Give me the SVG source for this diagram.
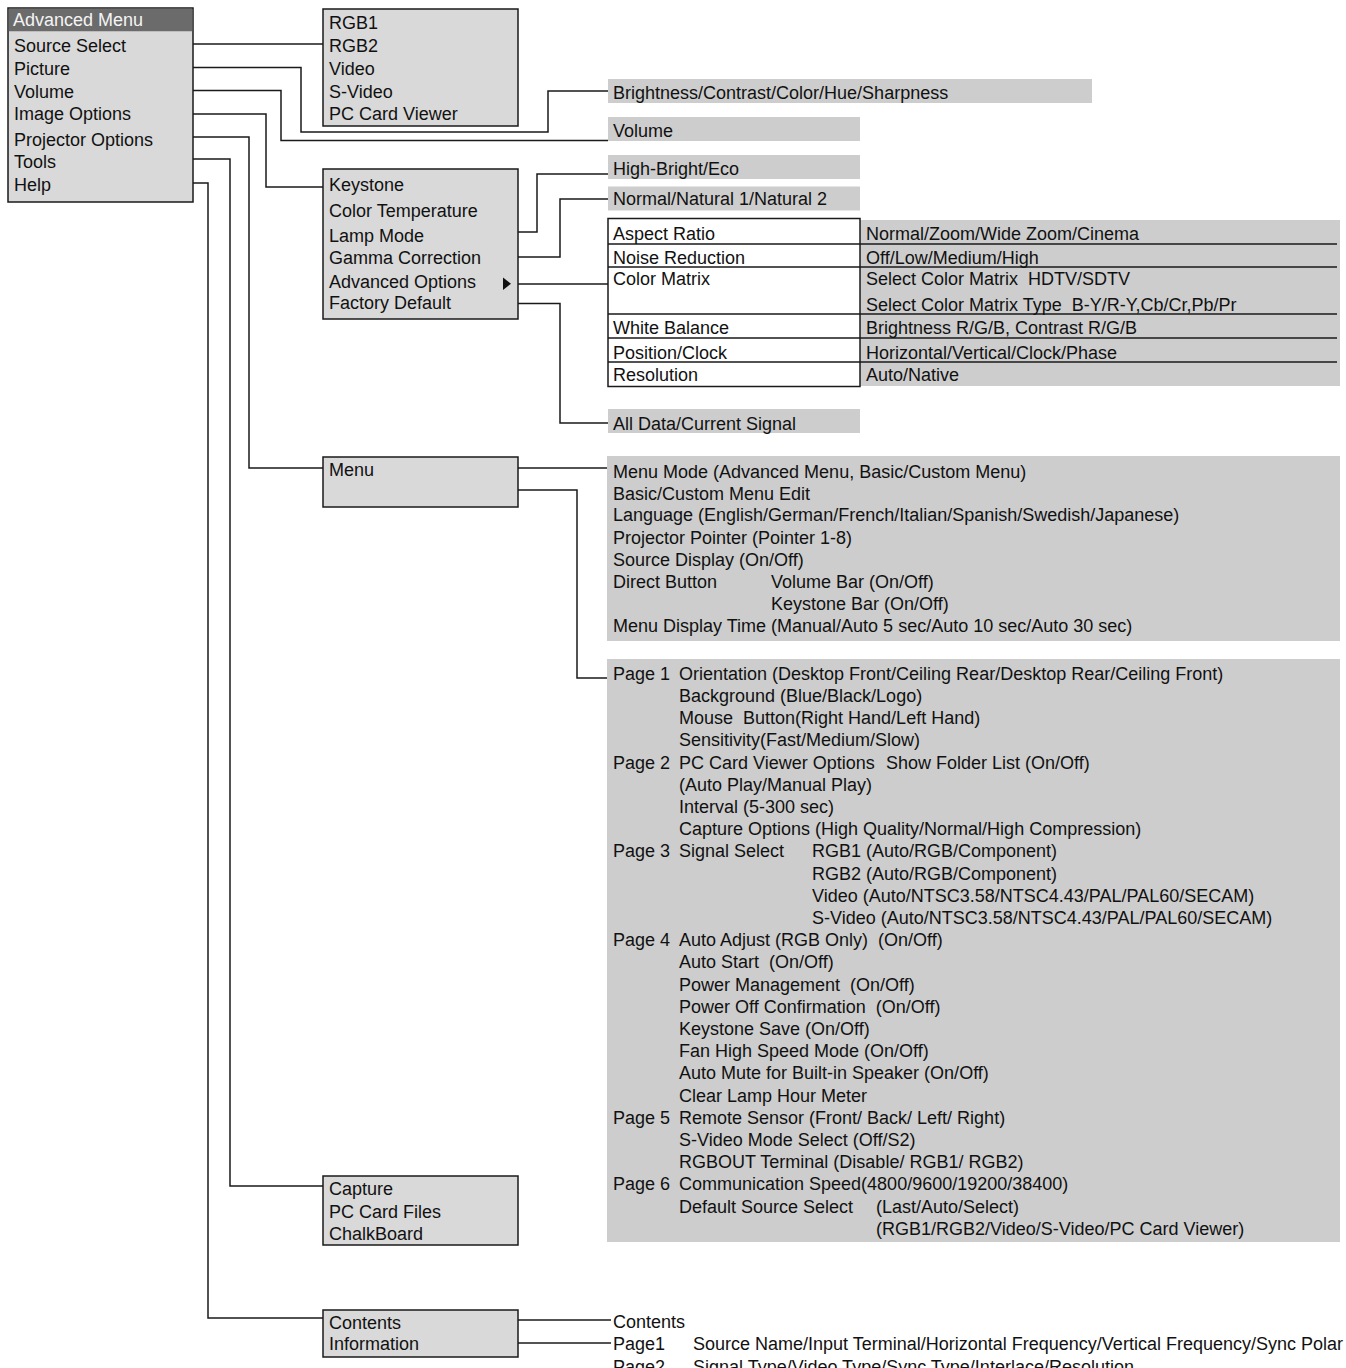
<svg xmlns="http://www.w3.org/2000/svg" width="1346" height="1368" viewBox="0 0 1346 1368" xml:space="preserve">
<style>
.box{fill:#d9d9d9;stroke:#1a1a1a;stroke-width:1.5}
.bar{fill:#cdcdcd}
.tbl{fill:#ffffff;stroke:#1a1a1a;stroke-width:1.5}
.t{font-family:"Liberation Sans",Arial,sans-serif;font-size:18px;fill:#111111;white-space:pre}
.w{fill:#f4f4f4}
.ln{fill:none;stroke:#1a1a1a;stroke-width:1.5}
</style>
<rect width="1346" height="1368" fill="#ffffff"/>

<g id="connectors" class="ln">
<path d="M193 44H323"/>
<path d="M193 67.5H301V132H548V91H608"/>
<path d="M193 90.5H281V140.5H608"/>
<path d="M193 114H266V187H323"/>
<path d="M193 137H249V468H323"/>
<path d="M193 159H230V1186H323"/>
<path d="M193 183H208V1318H323"/>
<path d="M518 232H537V174H608"/>
<path d="M518 257H560V199H608"/>
<path d="M518 284H608"/>
<path d="M518 303.5H560V423H608"/>
<path d="M518 468H607"/>
<path d="M518 490H577V678H607"/>
<path d="M518 1320H611"/>
<path d="M518 1343H611"/>
</g>

<g id="advanced-menu">
<rect class="box" x="8" y="8" width="185" height="194"/>
<rect x="8.75" y="8.75" width="183.5" height="22.5" fill="#6b6b6b"/>
<text class="t w" x="13" y="25.5">Advanced Menu</text>
<text class="t" x="14" y="51.5">Source Select</text>
<text class="t" x="14" y="74.5">Picture</text>
<text class="t" x="14" y="97.5">Volume</text>
<text class="t" x="14" y="119.5">Image Options</text>
<text class="t" x="14" y="145.5">Projector Options</text>
<text class="t" x="14" y="167.5">Tools</text>
<text class="t" x="14" y="190.5">Help</text>
</g>

<g id="source-select-menu">
<rect class="box" x="323" y="9" width="195" height="117"/>
<text class="t" x="329" y="29">RGB1</text>
<text class="t" x="329" y="52">RGB2</text>
<text class="t" x="329" y="74.5">Video</text>
<text class="t" x="329" y="98">S-Video</text>
<text class="t" x="329" y="119.5">PC Card Viewer</text>
</g>

<g id="picture-options">
<rect class="bar" x="608" y="79" width="484" height="24"/>
<text class="t" x="613" y="98.5">Brightness/Contrast/Color/Hue/Sharpness</text>
</g>

<g id="volume-option">
<rect class="bar" x="608" y="117" width="252" height="24"/>
<text class="t" x="613" y="136.5">Volume</text>
</g>

<g id="image-options-menu">
<rect class="box" x="323" y="169" width="195" height="150"/>
<text class="t" x="329" y="190.5">Keystone</text>
<text class="t" x="329" y="216.5">Color Temperature</text>
<text class="t" x="329" y="241.5">Lamp Mode</text>
<text class="t" x="329" y="263.5">Gamma Correction</text>
<text class="t" x="329" y="287.5">Advanced Options</text>
<text class="t" x="329" y="308.5">Factory Default</text>
<polygon points="503,277.5 503,290 511,283.75" fill="#111111"/>
</g>

<g id="lamp-mode-options">
<rect class="bar" x="608" y="155" width="252" height="24"/>
<text class="t" x="613" y="174.5">High-Bright/Eco</text>
</g>

<g id="gamma-options">
<rect class="bar" x="608" y="186.5" width="252" height="24"/>
<text class="t" x="613" y="204.5">Normal/Natural 1/Natural 2</text>
</g>

<g id="advanced-options-table">
<rect class="bar" x="860" y="220" width="480" height="166"/>
<rect class="tbl" x="608" y="218.5" width="252" height="168"/>
<path class="ln" d="M608 244H1337M608 267H1337M608 314H1337M608 338H1337M608 362H1337"/>
<text class="t" x="613" y="239.5">Aspect Ratio</text>
<text class="t" x="613" y="263.5">Noise Reduction</text>
<text class="t" x="613" y="284.5">Color Matrix</text>
<text class="t" x="613" y="333.5">White Balance</text>
<text class="t" x="613" y="358.5">Position/Clock</text>
<text class="t" x="613" y="380.5">Resolution</text>
<text class="t" x="866" y="240">Normal/Zoom/Wide Zoom/Cinema</text>
<text class="t" x="866" y="263.5">Off/Low/Medium/High</text>
<text class="t" x="866" y="284.5">Select Color Matrix  HDTV/SDTV</text>
<text class="t" x="866" y="310.5">Select Color Matrix Type  B-Y/R-Y,Cb/Cr,Pb/Pr</text>
<text class="t" x="866" y="333.5">Brightness R/G/B, Contrast R/G/B</text>
<text class="t" x="866" y="358.5">Horizontal/Vertical/Clock/Phase</text>
<text class="t" x="866" y="380.5">Auto/Native</text>
</g>

<g id="factory-default-options">
<rect class="bar" x="608" y="409" width="252" height="24"/>
<text class="t" x="613" y="429.5">All Data/Current Signal</text>
</g>

<g id="projector-options-menu">
<rect class="box" x="323" y="457" width="195" height="50"/>
<text class="t" x="329" y="475.5">Menu</text>
</g>

<g id="menu-settings">
<rect class="bar" x="607" y="456" width="733" height="185"/>
<text class="t" x="613" y="477.5">Menu Mode (Advanced Menu, Basic/Custom Menu)</text>
<text class="t" x="613" y="499.5">Basic/Custom Menu Edit</text>
<text class="t" x="613" y="521">Language (English/German/French/Italian/Spanish/Swedish/Japanese)</text>
<text class="t" x="613" y="543.5">Projector Pointer (Pointer 1-8)</text>
<text class="t" x="613" y="565.5">Source Display (On/Off)</text>
<text class="t" x="613" y="588">Direct Button</text>
<text class="t" x="771" y="588">Volume Bar (On/Off)</text>
<text class="t" x="771" y="610">Keystone Bar (On/Off)</text>
<text class="t" x="613" y="632">Menu Display Time (Manual/Auto 5 sec/Auto 10 sec/Auto 30 sec)</text>
</g>

<g id="projector-pages">
<rect class="bar" x="607" y="659" width="733" height="583"/>
<text class="t" x="613" y="679.8">Page 1</text>
<text class="t" x="679" y="679.8">Orientation (Desktop Front/Ceiling Rear/Desktop Rear/Ceiling Front)</text>
<text class="t" x="679" y="702">Background (Blue/Black/Logo)</text>
<text class="t" x="679" y="724.2">Mouse  Button(Right Hand/Left Hand)</text>
<text class="t" x="679" y="746.4">Sensitivity(Fast/Medium/Slow)</text>
<text class="t" x="613" y="768.6">Page 2</text>
<text class="t" x="679" y="768.6">PC Card Viewer Options</text>
<text class="t" x="886" y="768.6">Show Folder List (On/Off)</text>
<text class="t" x="679" y="790.8">(Auto Play/Manual Play)</text>
<text class="t" x="679" y="813">Interval (5-300 sec)</text>
<text class="t" x="679" y="835.2">Capture Options (High Quality/Normal/High Compression)</text>
<text class="t" x="613" y="857.4">Page 3</text>
<text class="t" x="679" y="857.4">Signal Select</text>
<text class="t" x="812" y="857.4">RGB1 (Auto/RGB/Component)</text>
<text class="t" x="812" y="879.6">RGB2 (Auto/RGB/Component)</text>
<text class="t" x="812" y="901.8">Video (Auto/NTSC3.58/NTSC4.43/PAL/PAL60/SECAM)</text>
<text class="t" x="812" y="924">S-Video (Auto/NTSC3.58/NTSC4.43/PAL/PAL60/SECAM)</text>
<text class="t" x="613" y="946.2">Page 4</text>
<text class="t" x="679" y="946.2">Auto Adjust (RGB Only)  (On/Off)</text>
<text class="t" x="679" y="968.4">Auto Start  (On/Off)</text>
<text class="t" x="679" y="990.6">Power Management  (On/Off)</text>
<text class="t" x="679" y="1012.8">Power Off Confirmation  (On/Off)</text>
<text class="t" x="679" y="1035">Keystone Save (On/Off)</text>
<text class="t" x="679" y="1057.2">Fan High Speed Mode (On/Off)</text>
<text class="t" x="679" y="1079.4">Auto Mute for Built-in Speaker (On/Off)</text>
<text class="t" x="679" y="1101.6">Clear Lamp Hour Meter</text>
<text class="t" x="613" y="1123.8">Page 5</text>
<text class="t" x="679" y="1123.8">Remote Sensor (Front/ Back/ Left/ Right)</text>
<text class="t" x="679" y="1146">S-Video Mode Select (Off/S2)</text>
<text class="t" x="679" y="1168.2">RGBOUT Terminal (Disable/ RGB1/ RGB2)</text>
<text class="t" x="613" y="1190.4">Page 6</text>
<text class="t" x="679" y="1190.4">Communication Speed(4800/9600/19200/38400)</text>
<text class="t" x="679" y="1212.6">Default Source Select</text>
<text class="t" x="876" y="1212.6">(Last/Auto/Select)</text>
<text class="t" x="876" y="1234.8">(RGB1/RGB2/Video/S-Video/PC Card Viewer)</text>
</g>

<g id="tools-menu">
<rect class="box" x="323" y="1176" width="195" height="69"/>
<text class="t" x="329" y="1194.5">Capture</text>
<text class="t" x="329" y="1217.5">PC Card Files</text>
<text class="t" x="329" y="1239.5">ChalkBoard</text>
</g>

<g id="help-menu">
<rect class="box" x="323" y="1310" width="195" height="47"/>
<text class="t" x="329" y="1328.5">Contents</text>
<text class="t" x="329" y="1349.5">Information</text>
</g>

<g id="help-contents">
<text class="t" x="613" y="1327.5">Contents</text>
<text class="t" x="613" y="1350">Page1</text>
<text class="t" x="693" y="1350">Source Name/Input Terminal/Horizontal Frequency/Vertical Frequency/Sync Polar</text>
<text class="t" x="613" y="1372.5">Page2</text>
<text class="t" x="693" y="1372.5">Signal Type/Video Type/Sync Type/Interlace/Resolution</text>
</g>
</svg>
